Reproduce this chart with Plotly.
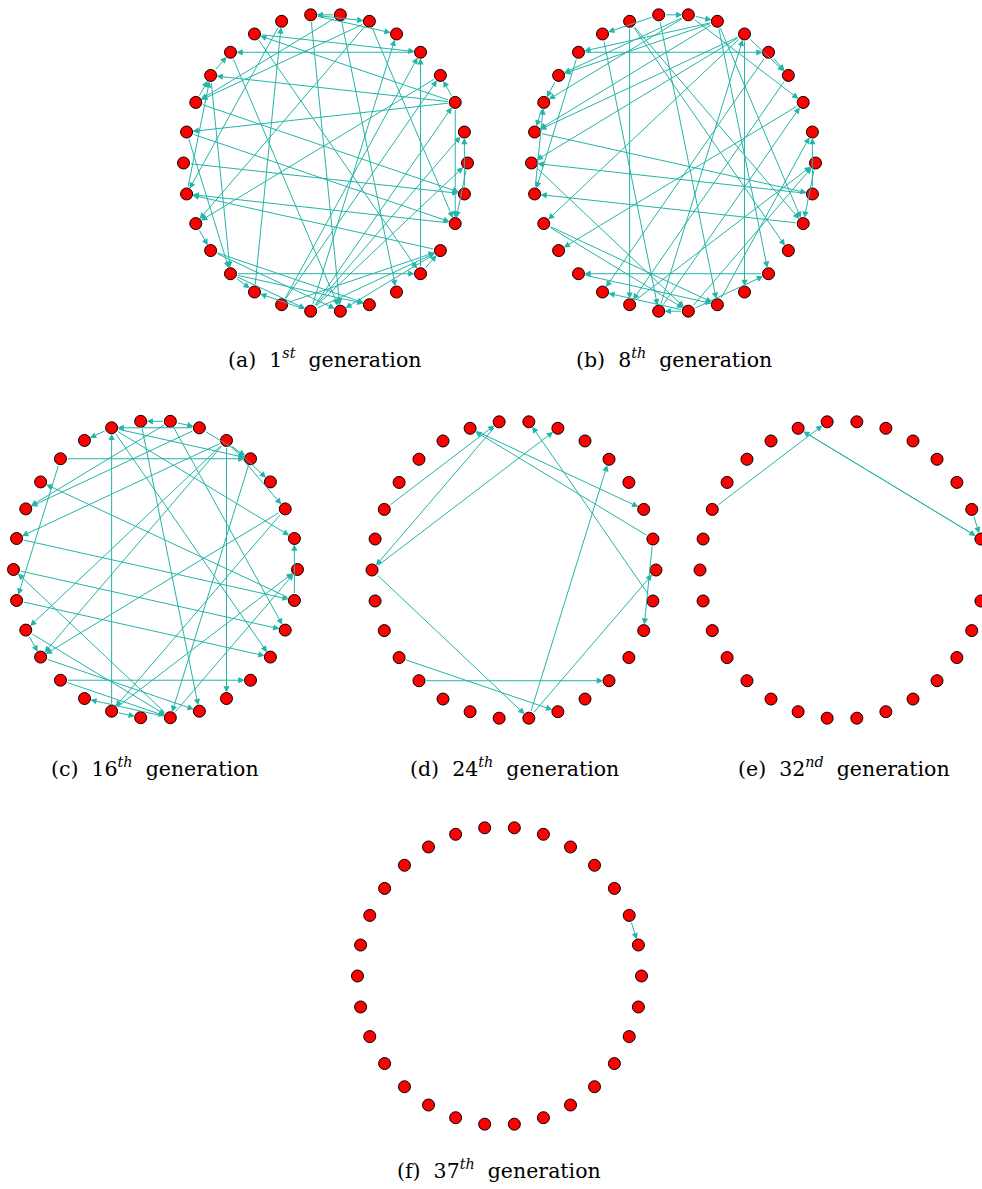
import math
import plotly.graph_objects as go

W, H = 982, 1189
N_NODES = 30

# Directed edges (source, target) between the 30 nodes of each generation
edges_gen1 = [
    (4, 11), (26, 4), (2, 28), (29, 1), (19, 26), (8, 6), (7, 8), (8, 5), (10, 4),
    (2, 10), (20, 9), (9, 16), (6, 13), (6, 17), (7, 13), (7, 25), (6, 28), (11, 23),
    (12, 19), (16, 12), (2, 14), (2, 12), (13, 29), (14, 28), (15, 29), (28, 16),
    (27, 16), (14, 19), (3, 17), (18, 24), (18, 23), (19, 24), (19, 22), (22, 20),
    (21, 3), (21, 27), (22, 2), (22, 1), (22, 0), (22, 27), (22, 5), (21, 4),
    (27, 23), (26, 27), (0, 28), (13, 12), (12, 11), (17, 18), (19, 20), (2, 3),
    (8, 23), (10, 26),
]
edges_gen8 = [
    (9, 21), (5, 25), (11, 4), (26, 19), (8, 7), (7, 6), (6, 11), (6, 12), (6, 14),
    (7, 12), (7, 13), (8, 10), (5, 15), (5, 14), (5, 3), (5, 17), (6, 28), (6, 26),
    (9, 28), (9, 27), (8, 24), (7, 2), (4, 3), (4, 20), (3, 21), (22, 2), (29, 1),
    (23, 0), (0, 28), (14, 29), (29, 15), (28, 16), (13, 14), (17, 24), (17, 23),
    (15, 23), (19, 24), (23, 20), (21, 0), (23, 22), (23, 26), (11, 16), (2, 18),
    (10, 22), (12, 13), (24, 1), (22, 5), (16, 13),
]
edges_gen16 = [
    (21, 9), (5, 25), (11, 4), (19, 26), (9, 10), (7, 8), (6, 9), (7, 6), (9, 4),
    (5, 3), (5, 2), (6, 4), (9, 1), (9, 27), (8, 24), (7, 28), (6, 13), (7, 13),
    (5, 14), (5, 17), (5, 18), (4, 23), (2, 21), (21, 0), (29, 1), (11, 16),
    (29, 12), (14, 29), (15, 28), (16, 27), (23, 15), (17, 18), (17, 23), (18, 24),
    (19, 23), (23, 20), (21, 22), (23, 0), (2, 18),
]
edges_gen24 = [
    (13, 8), (8, 15), (15, 6), (9, 2), (1, 9), (1, 28), (29, 7), (23, 4), (23, 0),
    (15, 23), (18, 24), (19, 26),
]
edges_gen32 = [(13, 8), (1, 9), (9, 1), (2, 1)]
edges_gen37 = [(2, 1)]

captions = [
    "(a)  1<sup><i>st</i></sup>  generation",
    "(b)  8<sup><i>th</i></sup>  generation",
    "(c)  16<sup><i>th</i></sup>  generation",
    "(d)  24<sup><i>th</i></sup>  generation",
    "(e)  32<sup><i>nd</i></sup>  generation",
    "(f)  37<sup><i>th</i></sup>  generation",
]
all_edges = [edges_gen1, edges_gen8, edges_gen16, edges_gen24, edges_gen32, edges_gen37]

# Panel placement on the page (pixel centre of each circular layout, caption y)
panel_centres = [(325.5, 163), (673.5, 163), (155.5, 569.5), (514, 570), (842, 570), (499.5, 976)]
caption_pos = [(324, 358), (674, 358), (155, 767), (514, 767), (844, 767), (499, 1169)]
RX, RY = 142, 149

EDGE_COLOR = "rgb(36,180,168)"
NODE_COLOR = "#ff0000"
NODE_SIZE = 12

# circular layout
node_x = [math.cos(2 * math.pi * k / N_NODES) for k in range(N_NODES)]
node_y = [math.sin(2 * math.pi * k / N_NODES) for k in range(N_NODES)]

fig = go.Figure()
annotations = []
layout_axes = {}

for i, ((cx, cy), edges) in enumerate(zip(panel_centres, all_edges)):
    sfx = "" if i == 0 else str(i + 1)
    xname, yname = "x" + sfx, "y" + sfx

    # axes are sized so one unit equals RX / RY pixels; the right panel runs off the page
    left, right = cx - 1.06 * RX, min(W, cx + 1.06 * RX)
    x_dom = [left / W, right / W]
    x_rng = [(left - cx) / RX, (right - cx) / RX]
    top, bottom = cy - 1.06 * RY, cy + 1.06 * RY
    y_dom = [(H - bottom) / H, (H - top) / H]
    y_rng = [-1.06, 1.06]

    layout_axes["xaxis" + sfx] = dict(domain=x_dom, range=x_rng, visible=False,
                                      fixedrange=True, anchor=yname)
    layout_axes["yaxis" + sfx] = dict(domain=y_dom, range=y_rng, visible=False,
                                      fixedrange=True, anchor=xname)

    for s, t in edges:
        annotations.append(dict(
            x=node_x[t], y=node_y[t], ax=node_x[s], ay=node_y[s],
            xref=xname, yref=yname, axref=xname, ayref=yname,
            showarrow=True, arrowhead=2, arrowsize=1.25, arrowwidth=1,
            arrowcolor=EDGE_COLOR, standoff=6, startstandoff=6, text="",
        ))

    fig.add_trace(go.Scatter(
        x=node_x, y=node_y, mode="markers", xaxis=xname, yaxis=yname,
        marker=dict(size=NODE_SIZE, color=NODE_COLOR, line=dict(color="black", width=1)),
        cliponaxis=False, hoverinfo="skip", showlegend=False,
    ))

for text, (px, py) in zip(captions, caption_pos):
    annotations.append(dict(
        x=px / W, y=1 - py / H, xref="paper", yref="paper",
        text=text, showarrow=False, xanchor="center", yanchor="middle",
        font=dict(family="DejaVu Serif", size=20.5, color="black"),
    ))

fig.update_layout(
    width=W, height=H, margin=dict(l=0, r=0, t=0, b=0),
    paper_bgcolor="white", plot_bgcolor="white",
    annotations=annotations, **layout_axes,
)

fig.write_html("out.html")
